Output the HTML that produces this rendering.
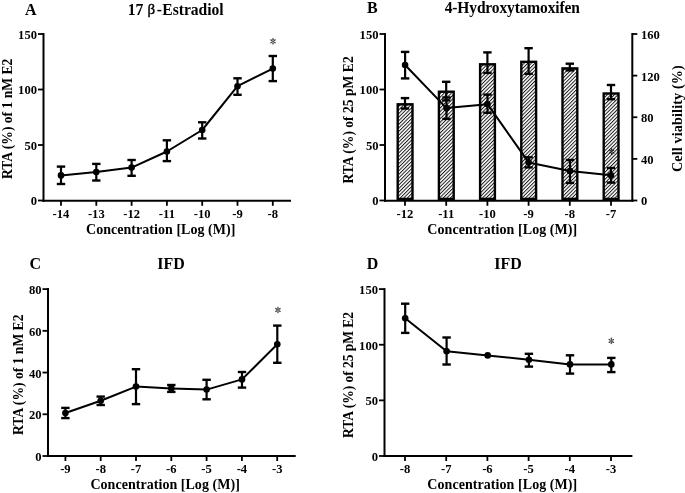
<!DOCTYPE html>
<html><head><meta charset="utf-8"><style>
html,body{margin:0;padding:0;background:#fff;}
svg{display:block;will-change:transform;}
text{font-family:"Liberation Serif", serif;fill:#000;}
</style></head><body>
<svg width="685" height="493" viewBox="0 0 685 493">
<rect width="685" height="493" fill="#fff"/>
<line x1="43.50" y1="33.00" x2="43.50" y2="201.80" stroke="#000" stroke-width="2.0"/>
<line x1="38.00" y1="34.00" x2="43.50" y2="34.00" stroke="#000" stroke-width="1.8"/>
<text x="37.00" y="38.95" font-size="12.6" text-anchor="end" font-weight="bold" >150</text>
<line x1="38.00" y1="89.50" x2="43.50" y2="89.50" stroke="#000" stroke-width="1.8"/>
<text x="37.00" y="94.45" font-size="12.6" text-anchor="end" font-weight="bold" >100</text>
<line x1="38.00" y1="145.00" x2="43.50" y2="145.00" stroke="#000" stroke-width="1.8"/>
<text x="37.00" y="149.95" font-size="12.6" text-anchor="end" font-weight="bold" >50</text>
<line x1="38.00" y1="200.50" x2="43.50" y2="200.50" stroke="#000" stroke-width="1.8"/>
<text x="37.00" y="205.45" font-size="12.6" text-anchor="end" font-weight="bold" >0</text>
<line x1="42.50" y1="200.80" x2="291.00" y2="200.80" stroke="#000" stroke-width="2.0"/>
<line x1="61.00" y1="200.80" x2="61.00" y2="205.80" stroke="#000" stroke-width="1.8"/>
<text x="61.00" y="218.00" font-size="12.6" text-anchor="middle" font-weight="bold" >-14</text>
<line x1="96.30" y1="200.80" x2="96.30" y2="205.80" stroke="#000" stroke-width="1.8"/>
<text x="96.30" y="218.00" font-size="12.6" text-anchor="middle" font-weight="bold" >-13</text>
<line x1="131.60" y1="200.80" x2="131.60" y2="205.80" stroke="#000" stroke-width="1.8"/>
<text x="131.60" y="218.00" font-size="12.6" text-anchor="middle" font-weight="bold" >-12</text>
<line x1="166.90" y1="200.80" x2="166.90" y2="205.80" stroke="#000" stroke-width="1.8"/>
<text x="166.90" y="218.00" font-size="12.6" text-anchor="middle" font-weight="bold" >-11</text>
<line x1="202.20" y1="200.80" x2="202.20" y2="205.80" stroke="#000" stroke-width="1.8"/>
<text x="202.20" y="218.00" font-size="12.6" text-anchor="middle" font-weight="bold" >-10</text>
<line x1="237.50" y1="200.80" x2="237.50" y2="205.80" stroke="#000" stroke-width="1.8"/>
<text x="237.50" y="218.00" font-size="12.6" text-anchor="middle" font-weight="bold" >-9</text>
<line x1="272.80" y1="200.80" x2="272.80" y2="205.80" stroke="#000" stroke-width="1.8"/>
<text x="272.80" y="218.00" font-size="12.6" text-anchor="middle" font-weight="bold" >-8</text>
<text transform="translate(24.90,15.30) scale(1,1.04)" font-size="16" text-anchor="start" font-weight="bold" >A</text>
<text transform="translate(127.8,14.7) scale(1,1.04)" font-size="15.6" font-weight="bold">17 <tspan font-weight="normal" font-size="15" dx="0.3" dy="-0.5" style="stroke:#000;stroke-width:0.4">β</tspan><tspan dx="1.6" dy="0.5">-</tspan><tspan dx="0.3" textLength="61.2" lengthAdjust="spacing">Estradiol</tspan></text>
<text x="86.00" y="233.70" font-size="14" text-anchor="start" font-weight="bold" textLength="149.4" lengthAdjust="spacing">Concentration [Log (M)]</text>
<text transform="translate(11.80,179.10) rotate(-90)" font-size="13.6" text-anchor="start" font-weight="bold">RTA (%) of 1 nM E2</text>
<path d="M61.00,175.40 L96.30,172.10 L131.60,167.60 L166.90,151.50 L202.20,130.00 L237.50,86.20 L272.80,68.60" fill="none" stroke="#000" stroke-width="2" stroke-linejoin="round"/>
<line x1="61.00" y1="166.60" x2="61.00" y2="184.00" stroke="#000" stroke-width="2.2"/>
<line x1="56.80" y1="166.60" x2="65.20" y2="166.60" stroke="#000" stroke-width="2.4"/>
<line x1="56.80" y1="184.00" x2="65.20" y2="184.00" stroke="#000" stroke-width="2.4"/>
<circle cx="61.00" cy="175.40" r="3.3" fill="#000"/>
<line x1="96.30" y1="163.90" x2="96.30" y2="180.50" stroke="#000" stroke-width="2.2"/>
<line x1="92.10" y1="163.90" x2="100.50" y2="163.90" stroke="#000" stroke-width="2.4"/>
<line x1="92.10" y1="180.50" x2="100.50" y2="180.50" stroke="#000" stroke-width="2.4"/>
<circle cx="96.30" cy="172.10" r="3.3" fill="#000"/>
<line x1="131.60" y1="160.00" x2="131.60" y2="175.80" stroke="#000" stroke-width="2.2"/>
<line x1="127.40" y1="160.00" x2="135.80" y2="160.00" stroke="#000" stroke-width="2.4"/>
<line x1="127.40" y1="175.80" x2="135.80" y2="175.80" stroke="#000" stroke-width="2.4"/>
<circle cx="131.60" cy="167.60" r="3.3" fill="#000"/>
<line x1="166.90" y1="140.30" x2="166.90" y2="161.10" stroke="#000" stroke-width="2.2"/>
<line x1="162.70" y1="140.30" x2="171.10" y2="140.30" stroke="#000" stroke-width="2.4"/>
<line x1="162.70" y1="161.10" x2="171.10" y2="161.10" stroke="#000" stroke-width="2.4"/>
<circle cx="166.90" cy="151.50" r="3.3" fill="#000"/>
<line x1="202.20" y1="122.30" x2="202.20" y2="138.50" stroke="#000" stroke-width="2.2"/>
<line x1="198.00" y1="122.30" x2="206.40" y2="122.30" stroke="#000" stroke-width="2.4"/>
<line x1="198.00" y1="138.50" x2="206.40" y2="138.50" stroke="#000" stroke-width="2.4"/>
<circle cx="202.20" cy="130.00" r="3.3" fill="#000"/>
<line x1="237.50" y1="78.30" x2="237.50" y2="94.80" stroke="#000" stroke-width="2.2"/>
<line x1="233.30" y1="78.30" x2="241.70" y2="78.30" stroke="#000" stroke-width="2.4"/>
<line x1="233.30" y1="94.80" x2="241.70" y2="94.80" stroke="#000" stroke-width="2.4"/>
<circle cx="237.50" cy="86.20" r="3.3" fill="#000"/>
<line x1="272.80" y1="56.00" x2="272.80" y2="81.10" stroke="#000" stroke-width="2.2"/>
<line x1="268.60" y1="56.00" x2="277.00" y2="56.00" stroke="#000" stroke-width="2.4"/>
<line x1="268.60" y1="81.10" x2="277.00" y2="81.10" stroke="#000" stroke-width="2.4"/>
<circle cx="272.80" cy="68.60" r="3.3" fill="#000"/>
<g transform="translate(273.00,41.30)" fill="#404040"><ellipse cx="2.1" cy="0" rx="1.2" ry="0.72" transform="rotate(-90)"/><ellipse cx="2.1" cy="0" rx="1.2" ry="0.72" transform="rotate(-270)"/><ellipse cx="2.1" cy="0" rx="1.2" ry="0.72" transform="rotate(-34)"/><ellipse cx="2.1" cy="0" rx="1.2" ry="0.72" transform="rotate(-146)"/><ellipse cx="2.1" cy="0" rx="1.2" ry="0.72" transform="rotate(-214)"/><ellipse cx="2.1" cy="0" rx="1.2" ry="0.72" transform="rotate(-326)"/><circle r="0.9"/></g>
<line x1="385.00" y1="33.00" x2="385.00" y2="201.80" stroke="#000" stroke-width="2.0"/>
<line x1="379.50" y1="34.00" x2="385.00" y2="34.00" stroke="#000" stroke-width="1.8"/>
<text x="378.50" y="38.95" font-size="12.6" text-anchor="end" font-weight="bold" >150</text>
<line x1="379.50" y1="89.50" x2="385.00" y2="89.50" stroke="#000" stroke-width="1.8"/>
<text x="378.50" y="94.45" font-size="12.6" text-anchor="end" font-weight="bold" >100</text>
<line x1="379.50" y1="145.00" x2="385.00" y2="145.00" stroke="#000" stroke-width="1.8"/>
<text x="378.50" y="149.95" font-size="12.6" text-anchor="end" font-weight="bold" >50</text>
<line x1="379.50" y1="200.50" x2="385.00" y2="200.50" stroke="#000" stroke-width="1.8"/>
<text x="378.50" y="205.45" font-size="12.6" text-anchor="end" font-weight="bold" >0</text>
<line x1="632.30" y1="33.00" x2="632.30" y2="201.80" stroke="#000" stroke-width="2.0"/>
<line x1="632.30" y1="34.00" x2="637.30" y2="34.00" stroke="#000" stroke-width="1.8"/>
<text x="641.00" y="38.95" font-size="12.6" text-anchor="start" font-weight="bold" >160</text>
<line x1="632.30" y1="75.62" x2="637.30" y2="75.62" stroke="#000" stroke-width="1.8"/>
<text x="641.00" y="80.58" font-size="12.6" text-anchor="start" font-weight="bold" >120</text>
<line x1="632.30" y1="117.25" x2="637.30" y2="117.25" stroke="#000" stroke-width="1.8"/>
<text x="641.00" y="122.20" font-size="12.6" text-anchor="start" font-weight="bold" >80</text>
<line x1="632.30" y1="158.88" x2="637.30" y2="158.88" stroke="#000" stroke-width="1.8"/>
<text x="641.00" y="163.82" font-size="12.6" text-anchor="start" font-weight="bold" >40</text>
<line x1="632.30" y1="200.50" x2="637.30" y2="200.50" stroke="#000" stroke-width="1.8"/>
<text x="641.00" y="205.45" font-size="12.6" text-anchor="start" font-weight="bold" >0</text>
<line x1="384.00" y1="200.80" x2="633.30" y2="200.80" stroke="#000" stroke-width="2.0"/>
<line x1="405.00" y1="200.80" x2="405.00" y2="205.80" stroke="#000" stroke-width="1.8"/>
<text x="405.00" y="218.00" font-size="12.6" text-anchor="middle" font-weight="bold" >-12</text>
<line x1="446.20" y1="200.80" x2="446.20" y2="205.80" stroke="#000" stroke-width="1.8"/>
<text x="446.20" y="218.00" font-size="12.6" text-anchor="middle" font-weight="bold" >-11</text>
<line x1="487.40" y1="200.80" x2="487.40" y2="205.80" stroke="#000" stroke-width="1.8"/>
<text x="487.40" y="218.00" font-size="12.6" text-anchor="middle" font-weight="bold" >-10</text>
<line x1="528.60" y1="200.80" x2="528.60" y2="205.80" stroke="#000" stroke-width="1.8"/>
<text x="528.60" y="218.00" font-size="12.6" text-anchor="middle" font-weight="bold" >-9</text>
<line x1="569.80" y1="200.80" x2="569.80" y2="205.80" stroke="#000" stroke-width="1.8"/>
<text x="569.80" y="218.00" font-size="12.6" text-anchor="middle" font-weight="bold" >-8</text>
<line x1="611.00" y1="200.80" x2="611.00" y2="205.80" stroke="#000" stroke-width="1.8"/>
<text x="611.00" y="218.00" font-size="12.6" text-anchor="middle" font-weight="bold" >-7</text>
<text transform="translate(367.10,13.30) scale(1,1.04)" font-size="16" text-anchor="start" font-weight="bold" >B</text>
<text transform="translate(444.70,12.90) scale(1,1.04)" font-size="15.5" text-anchor="start" font-weight="bold" textLength="135.2" lengthAdjust="spacing">4-Hydroxytamoxifen</text>
<text x="427.30" y="233.90" font-size="14" text-anchor="start" font-weight="bold" textLength="149.9" lengthAdjust="spacing">Concentration [Log (M)]</text>
<text transform="translate(353.00,183.60) rotate(-90)" font-size="13.6" text-anchor="start" font-weight="bold">RTA (%) of 25 pM E2</text>
<text transform="translate(682.30,172.00) rotate(-90)" font-size="14.2" text-anchor="start" font-weight="bold" textLength="106.8" lengthAdjust="spacing">Cell viability (%)</text>
<defs><pattern id="hatch" patternUnits="userSpaceOnUse" width="2.53" height="10" patternTransform="rotate(45)"><rect width="2.53" height="10" fill="#fff"/><line x1="0.5" y1="0" x2="0.5" y2="10" stroke="#111" stroke-width="0.95"/></pattern></defs>
<rect x="397.70" y="104.30" width="14.8" height="94.60" fill="url(#hatch)" stroke="#000" stroke-width="2.4"/>
<rect x="438.90" y="91.70" width="14.8" height="107.20" fill="url(#hatch)" stroke="#000" stroke-width="2.4"/>
<rect x="480.10" y="64.30" width="14.8" height="134.60" fill="url(#hatch)" stroke="#000" stroke-width="2.4"/>
<rect x="521.30" y="61.80" width="14.8" height="137.10" fill="url(#hatch)" stroke="#000" stroke-width="2.4"/>
<rect x="562.50" y="68.40" width="14.8" height="130.50" fill="url(#hatch)" stroke="#000" stroke-width="2.4"/>
<rect x="603.70" y="93.50" width="14.8" height="105.40" fill="url(#hatch)" stroke="#000" stroke-width="2.4"/>
<line x1="405.00" y1="98.10" x2="405.00" y2="108.50" stroke="#000" stroke-width="2.2"/>
<line x1="400.80" y1="98.10" x2="409.20" y2="98.10" stroke="#000" stroke-width="2.4"/>
<line x1="400.80" y1="108.50" x2="409.20" y2="108.50" stroke="#000" stroke-width="2.4"/>
<line x1="446.20" y1="81.80" x2="446.20" y2="100.40" stroke="#000" stroke-width="2.2"/>
<line x1="442.00" y1="81.80" x2="450.40" y2="81.80" stroke="#000" stroke-width="2.4"/>
<line x1="442.00" y1="100.40" x2="450.40" y2="100.40" stroke="#000" stroke-width="2.4"/>
<line x1="487.40" y1="52.40" x2="487.40" y2="72.90" stroke="#000" stroke-width="2.2"/>
<line x1="483.20" y1="52.40" x2="491.60" y2="52.40" stroke="#000" stroke-width="2.4"/>
<line x1="483.20" y1="72.90" x2="491.60" y2="72.90" stroke="#000" stroke-width="2.4"/>
<line x1="528.60" y1="48.20" x2="528.60" y2="73.80" stroke="#000" stroke-width="2.2"/>
<line x1="524.40" y1="48.20" x2="532.80" y2="48.20" stroke="#000" stroke-width="2.4"/>
<line x1="524.40" y1="73.80" x2="532.80" y2="73.80" stroke="#000" stroke-width="2.4"/>
<line x1="569.80" y1="63.70" x2="569.80" y2="70.40" stroke="#000" stroke-width="2.2"/>
<line x1="565.60" y1="63.70" x2="574.00" y2="63.70" stroke="#000" stroke-width="2.4"/>
<line x1="565.60" y1="70.40" x2="574.00" y2="70.40" stroke="#000" stroke-width="2.4"/>
<line x1="611.00" y1="85.00" x2="611.00" y2="99.20" stroke="#000" stroke-width="2.2"/>
<line x1="606.80" y1="85.00" x2="615.20" y2="85.00" stroke="#000" stroke-width="2.4"/>
<line x1="606.80" y1="99.20" x2="615.20" y2="99.20" stroke="#000" stroke-width="2.4"/>
<path d="M405.10,65.00 L446.50,108.10 L487.50,104.20 L528.60,162.40 L570.00,171.00 L611.00,175.20" fill="none" stroke="#000" stroke-width="2" stroke-linejoin="round"/>
<line x1="405.10" y1="51.90" x2="405.10" y2="78.40" stroke="#000" stroke-width="2.2"/>
<line x1="400.90" y1="51.90" x2="409.30" y2="51.90" stroke="#000" stroke-width="2.4"/>
<line x1="400.90" y1="78.40" x2="409.30" y2="78.40" stroke="#000" stroke-width="2.4"/>
<circle cx="405.10" cy="65.00" r="3.3" fill="#000"/>
<line x1="446.50" y1="97.50" x2="446.50" y2="118.90" stroke="#000" stroke-width="2.2"/>
<line x1="442.30" y1="97.50" x2="450.70" y2="97.50" stroke="#000" stroke-width="2.4"/>
<line x1="442.30" y1="118.90" x2="450.70" y2="118.90" stroke="#000" stroke-width="2.4"/>
<circle cx="446.50" cy="108.10" r="3.3" fill="#000"/>
<line x1="487.50" y1="94.60" x2="487.50" y2="112.80" stroke="#000" stroke-width="2.2"/>
<line x1="483.30" y1="94.60" x2="491.70" y2="94.60" stroke="#000" stroke-width="2.4"/>
<line x1="483.30" y1="112.80" x2="491.70" y2="112.80" stroke="#000" stroke-width="2.4"/>
<circle cx="487.50" cy="104.20" r="3.3" fill="#000"/>
<line x1="528.60" y1="157.30" x2="528.60" y2="167.40" stroke="#000" stroke-width="2.2"/>
<line x1="524.40" y1="157.30" x2="532.80" y2="157.30" stroke="#000" stroke-width="2.4"/>
<line x1="524.40" y1="167.40" x2="532.80" y2="167.40" stroke="#000" stroke-width="2.4"/>
<circle cx="528.60" cy="162.40" r="3.3" fill="#000"/>
<line x1="570.00" y1="160.00" x2="570.00" y2="182.90" stroke="#000" stroke-width="2.2"/>
<line x1="565.80" y1="160.00" x2="574.20" y2="160.00" stroke="#000" stroke-width="2.4"/>
<line x1="565.80" y1="182.90" x2="574.20" y2="182.90" stroke="#000" stroke-width="2.4"/>
<circle cx="570.00" cy="171.00" r="3.3" fill="#000"/>
<line x1="611.00" y1="168.00" x2="611.00" y2="182.60" stroke="#000" stroke-width="2.2"/>
<line x1="606.80" y1="168.00" x2="615.20" y2="168.00" stroke="#000" stroke-width="2.4"/>
<line x1="606.80" y1="182.60" x2="615.20" y2="182.60" stroke="#000" stroke-width="2.4"/>
<circle cx="611.00" cy="175.20" r="3.3" fill="#000"/>
<g transform="translate(611.60,151.60)" fill="#202020"><ellipse cx="2.1" cy="0" rx="1.2" ry="0.72" transform="rotate(-90)"/><ellipse cx="2.1" cy="0" rx="1.2" ry="0.72" transform="rotate(-270)"/><ellipse cx="2.1" cy="0" rx="1.2" ry="0.72" transform="rotate(-34)"/><ellipse cx="2.1" cy="0" rx="1.2" ry="0.72" transform="rotate(-146)"/><ellipse cx="2.1" cy="0" rx="1.2" ry="0.72" transform="rotate(-214)"/><ellipse cx="2.1" cy="0" rx="1.2" ry="0.72" transform="rotate(-326)"/><circle r="0.9"/></g>
<line x1="48.00" y1="288.10" x2="48.00" y2="457.00" stroke="#000" stroke-width="2.0"/>
<line x1="42.50" y1="289.10" x2="48.00" y2="289.10" stroke="#000" stroke-width="1.8"/>
<text x="41.50" y="294.05" font-size="12.6" text-anchor="end" font-weight="bold" >80</text>
<line x1="42.50" y1="330.83" x2="48.00" y2="330.83" stroke="#000" stroke-width="1.8"/>
<text x="41.50" y="335.78" font-size="12.6" text-anchor="end" font-weight="bold" >60</text>
<line x1="42.50" y1="372.55" x2="48.00" y2="372.55" stroke="#000" stroke-width="1.8"/>
<text x="41.50" y="377.50" font-size="12.6" text-anchor="end" font-weight="bold" >40</text>
<line x1="42.50" y1="414.28" x2="48.00" y2="414.28" stroke="#000" stroke-width="1.8"/>
<text x="41.50" y="419.23" font-size="12.6" text-anchor="end" font-weight="bold" >20</text>
<line x1="42.50" y1="456.00" x2="48.00" y2="456.00" stroke="#000" stroke-width="1.8"/>
<text x="41.50" y="460.95" font-size="12.6" text-anchor="end" font-weight="bold" >0</text>
<line x1="47.00" y1="456.00" x2="295.70" y2="456.00" stroke="#000" stroke-width="2.0"/>
<line x1="65.40" y1="456.00" x2="65.40" y2="461.00" stroke="#000" stroke-width="1.8"/>
<text x="65.40" y="473.20" font-size="12.6" text-anchor="middle" font-weight="bold" >-9</text>
<line x1="100.70" y1="456.00" x2="100.70" y2="461.00" stroke="#000" stroke-width="1.8"/>
<text x="100.70" y="473.20" font-size="12.6" text-anchor="middle" font-weight="bold" >-8</text>
<line x1="136.00" y1="456.00" x2="136.00" y2="461.00" stroke="#000" stroke-width="1.8"/>
<text x="136.00" y="473.20" font-size="12.6" text-anchor="middle" font-weight="bold" >-7</text>
<line x1="171.30" y1="456.00" x2="171.30" y2="461.00" stroke="#000" stroke-width="1.8"/>
<text x="171.30" y="473.20" font-size="12.6" text-anchor="middle" font-weight="bold" >-6</text>
<line x1="206.60" y1="456.00" x2="206.60" y2="461.00" stroke="#000" stroke-width="1.8"/>
<text x="206.60" y="473.20" font-size="12.6" text-anchor="middle" font-weight="bold" >-5</text>
<line x1="241.90" y1="456.00" x2="241.90" y2="461.00" stroke="#000" stroke-width="1.8"/>
<text x="241.90" y="473.20" font-size="12.6" text-anchor="middle" font-weight="bold" >-4</text>
<line x1="277.20" y1="456.00" x2="277.20" y2="461.00" stroke="#000" stroke-width="1.8"/>
<text x="277.20" y="473.20" font-size="12.6" text-anchor="middle" font-weight="bold" >-3</text>
<text transform="translate(29.60,269.30) scale(1,1.04)" font-size="16" text-anchor="start" font-weight="bold" >C</text>
<text transform="translate(157.20,269.00) scale(1,1.04)" font-size="16" text-anchor="start" font-weight="bold" >IFD</text>
<text x="90.40" y="488.90" font-size="14" text-anchor="start" font-weight="bold" textLength="149.4" lengthAdjust="spacing">Concentration [Log (M)]</text>
<text transform="translate(22.60,435.00) rotate(-90)" font-size="13.6" text-anchor="start" font-weight="bold">RTA (%) of 1 nM E2</text>
<path d="M65.40,413.00 L100.70,400.70 L136.00,386.60 L171.30,388.40 L206.60,389.60 L242.00,379.40 L277.30,344.30" fill="none" stroke="#000" stroke-width="2" stroke-linejoin="round"/>
<line x1="65.40" y1="407.90" x2="65.40" y2="418.10" stroke="#000" stroke-width="2.2"/>
<line x1="61.20" y1="407.90" x2="69.60" y2="407.90" stroke="#000" stroke-width="2.4"/>
<line x1="61.20" y1="418.10" x2="69.60" y2="418.10" stroke="#000" stroke-width="2.4"/>
<circle cx="65.40" cy="413.00" r="3.3" fill="#000"/>
<line x1="100.70" y1="396.60" x2="100.70" y2="405.00" stroke="#000" stroke-width="2.2"/>
<line x1="96.50" y1="396.60" x2="104.90" y2="396.60" stroke="#000" stroke-width="2.4"/>
<line x1="96.50" y1="405.00" x2="104.90" y2="405.00" stroke="#000" stroke-width="2.4"/>
<circle cx="100.70" cy="400.70" r="3.3" fill="#000"/>
<line x1="136.00" y1="369.20" x2="136.00" y2="404.10" stroke="#000" stroke-width="2.2"/>
<line x1="131.80" y1="369.20" x2="140.20" y2="369.20" stroke="#000" stroke-width="2.4"/>
<line x1="131.80" y1="404.10" x2="140.20" y2="404.10" stroke="#000" stroke-width="2.4"/>
<circle cx="136.00" cy="386.60" r="3.3" fill="#000"/>
<line x1="171.30" y1="385.00" x2="171.30" y2="391.90" stroke="#000" stroke-width="2.2"/>
<line x1="167.10" y1="385.00" x2="175.50" y2="385.00" stroke="#000" stroke-width="2.4"/>
<line x1="167.10" y1="391.90" x2="175.50" y2="391.90" stroke="#000" stroke-width="2.4"/>
<circle cx="171.30" cy="388.40" r="3.3" fill="#000"/>
<line x1="206.60" y1="379.80" x2="206.60" y2="399.30" stroke="#000" stroke-width="2.2"/>
<line x1="202.40" y1="379.80" x2="210.80" y2="379.80" stroke="#000" stroke-width="2.4"/>
<line x1="202.40" y1="399.30" x2="210.80" y2="399.30" stroke="#000" stroke-width="2.4"/>
<circle cx="206.60" cy="389.60" r="3.3" fill="#000"/>
<line x1="242.00" y1="372.00" x2="242.00" y2="387.60" stroke="#000" stroke-width="2.2"/>
<line x1="237.80" y1="372.00" x2="246.20" y2="372.00" stroke="#000" stroke-width="2.4"/>
<line x1="237.80" y1="387.60" x2="246.20" y2="387.60" stroke="#000" stroke-width="2.4"/>
<circle cx="242.00" cy="379.40" r="3.3" fill="#000"/>
<line x1="277.30" y1="325.60" x2="277.30" y2="362.80" stroke="#000" stroke-width="2.2"/>
<line x1="273.10" y1="325.60" x2="281.50" y2="325.60" stroke="#000" stroke-width="2.4"/>
<line x1="273.10" y1="362.80" x2="281.50" y2="362.80" stroke="#000" stroke-width="2.4"/>
<circle cx="277.30" cy="344.30" r="3.3" fill="#000"/>
<g transform="translate(277.95,310.00)" fill="#404040"><ellipse cx="2.1" cy="0" rx="1.2" ry="0.72" transform="rotate(-90)"/><ellipse cx="2.1" cy="0" rx="1.2" ry="0.72" transform="rotate(-270)"/><ellipse cx="2.1" cy="0" rx="1.2" ry="0.72" transform="rotate(-34)"/><ellipse cx="2.1" cy="0" rx="1.2" ry="0.72" transform="rotate(-146)"/><ellipse cx="2.1" cy="0" rx="1.2" ry="0.72" transform="rotate(-214)"/><ellipse cx="2.1" cy="0" rx="1.2" ry="0.72" transform="rotate(-326)"/><circle r="0.9"/></g>
<line x1="384.50" y1="288.10" x2="384.50" y2="457.00" stroke="#000" stroke-width="2.0"/>
<line x1="379.00" y1="289.10" x2="384.50" y2="289.10" stroke="#000" stroke-width="1.8"/>
<text x="378.00" y="294.05" font-size="12.6" text-anchor="end" font-weight="bold" >150</text>
<line x1="379.00" y1="344.73" x2="384.50" y2="344.73" stroke="#000" stroke-width="1.8"/>
<text x="378.00" y="349.68" font-size="12.6" text-anchor="end" font-weight="bold" >100</text>
<line x1="379.00" y1="400.36" x2="384.50" y2="400.36" stroke="#000" stroke-width="1.8"/>
<text x="378.00" y="405.31" font-size="12.6" text-anchor="end" font-weight="bold" >50</text>
<line x1="379.00" y1="455.99" x2="384.50" y2="455.99" stroke="#000" stroke-width="1.8"/>
<text x="378.00" y="460.94" font-size="12.6" text-anchor="end" font-weight="bold" >0</text>
<line x1="383.50" y1="456.00" x2="632.40" y2="456.00" stroke="#000" stroke-width="2.0"/>
<line x1="405.00" y1="456.00" x2="405.00" y2="461.00" stroke="#000" stroke-width="1.8"/>
<text x="405.00" y="473.20" font-size="12.6" text-anchor="middle" font-weight="bold" >-8</text>
<line x1="446.20" y1="456.00" x2="446.20" y2="461.00" stroke="#000" stroke-width="1.8"/>
<text x="446.20" y="473.20" font-size="12.6" text-anchor="middle" font-weight="bold" >-7</text>
<line x1="487.40" y1="456.00" x2="487.40" y2="461.00" stroke="#000" stroke-width="1.8"/>
<text x="487.40" y="473.20" font-size="12.6" text-anchor="middle" font-weight="bold" >-6</text>
<line x1="528.60" y1="456.00" x2="528.60" y2="461.00" stroke="#000" stroke-width="1.8"/>
<text x="528.60" y="473.20" font-size="12.6" text-anchor="middle" font-weight="bold" >-5</text>
<line x1="569.80" y1="456.00" x2="569.80" y2="461.00" stroke="#000" stroke-width="1.8"/>
<text x="569.80" y="473.20" font-size="12.6" text-anchor="middle" font-weight="bold" >-4</text>
<line x1="611.00" y1="456.00" x2="611.00" y2="461.00" stroke="#000" stroke-width="1.8"/>
<text x="611.00" y="473.20" font-size="12.6" text-anchor="middle" font-weight="bold" >-3</text>
<text transform="translate(366.80,269.30) scale(1,1.04)" font-size="16" text-anchor="start" font-weight="bold" >D</text>
<text transform="translate(494.20,269.00) scale(1,1.04)" font-size="16" text-anchor="start" font-weight="bold" >IFD</text>
<text x="427.30" y="489.00" font-size="14" text-anchor="start" font-weight="bold" textLength="149.9" lengthAdjust="spacing">Concentration [Log (M)]</text>
<text transform="translate(353.00,437.90) rotate(-90)" font-size="13.6" text-anchor="start" font-weight="bold" textLength="126.0" lengthAdjust="spacing">RTA (%) of 25 pM E2</text>
<path d="M405.20,318.30 L446.60,351.20 L487.70,355.40 L528.90,359.70 L570.00,364.40 L611.30,364.40" fill="none" stroke="#000" stroke-width="2" stroke-linejoin="round"/>
<line x1="405.20" y1="303.70" x2="405.20" y2="332.90" stroke="#000" stroke-width="2.2"/>
<line x1="401.00" y1="303.70" x2="409.40" y2="303.70" stroke="#000" stroke-width="2.4"/>
<line x1="401.00" y1="332.90" x2="409.40" y2="332.90" stroke="#000" stroke-width="2.4"/>
<circle cx="405.20" cy="318.30" r="3.3" fill="#000"/>
<line x1="446.60" y1="337.50" x2="446.60" y2="364.50" stroke="#000" stroke-width="2.2"/>
<line x1="442.40" y1="337.50" x2="450.80" y2="337.50" stroke="#000" stroke-width="2.4"/>
<line x1="442.40" y1="364.50" x2="450.80" y2="364.50" stroke="#000" stroke-width="2.4"/>
<circle cx="446.60" cy="351.20" r="3.3" fill="#000"/>
<circle cx="487.70" cy="355.40" r="3.3" fill="#000"/>
<line x1="528.90" y1="353.80" x2="528.90" y2="366.60" stroke="#000" stroke-width="2.2"/>
<line x1="524.70" y1="353.80" x2="533.10" y2="353.80" stroke="#000" stroke-width="2.4"/>
<line x1="524.70" y1="366.60" x2="533.10" y2="366.60" stroke="#000" stroke-width="2.4"/>
<circle cx="528.90" cy="359.70" r="3.3" fill="#000"/>
<line x1="570.00" y1="355.30" x2="570.00" y2="373.60" stroke="#000" stroke-width="2.2"/>
<line x1="565.80" y1="355.30" x2="574.20" y2="355.30" stroke="#000" stroke-width="2.4"/>
<line x1="565.80" y1="373.60" x2="574.20" y2="373.60" stroke="#000" stroke-width="2.4"/>
<circle cx="570.00" cy="364.40" r="3.3" fill="#000"/>
<line x1="611.30" y1="357.90" x2="611.30" y2="372.10" stroke="#000" stroke-width="2.2"/>
<line x1="607.10" y1="357.90" x2="615.50" y2="357.90" stroke="#000" stroke-width="2.4"/>
<line x1="607.10" y1="372.10" x2="615.50" y2="372.10" stroke="#000" stroke-width="2.4"/>
<circle cx="611.30" cy="364.40" r="3.3" fill="#000"/>
<g transform="translate(611.30,340.90)" fill="#404040"><ellipse cx="2.1" cy="0" rx="1.2" ry="0.72" transform="rotate(-90)"/><ellipse cx="2.1" cy="0" rx="1.2" ry="0.72" transform="rotate(-270)"/><ellipse cx="2.1" cy="0" rx="1.2" ry="0.72" transform="rotate(-34)"/><ellipse cx="2.1" cy="0" rx="1.2" ry="0.72" transform="rotate(-146)"/><ellipse cx="2.1" cy="0" rx="1.2" ry="0.72" transform="rotate(-214)"/><ellipse cx="2.1" cy="0" rx="1.2" ry="0.72" transform="rotate(-326)"/><circle r="0.9"/></g>
</svg>
</body></html>
